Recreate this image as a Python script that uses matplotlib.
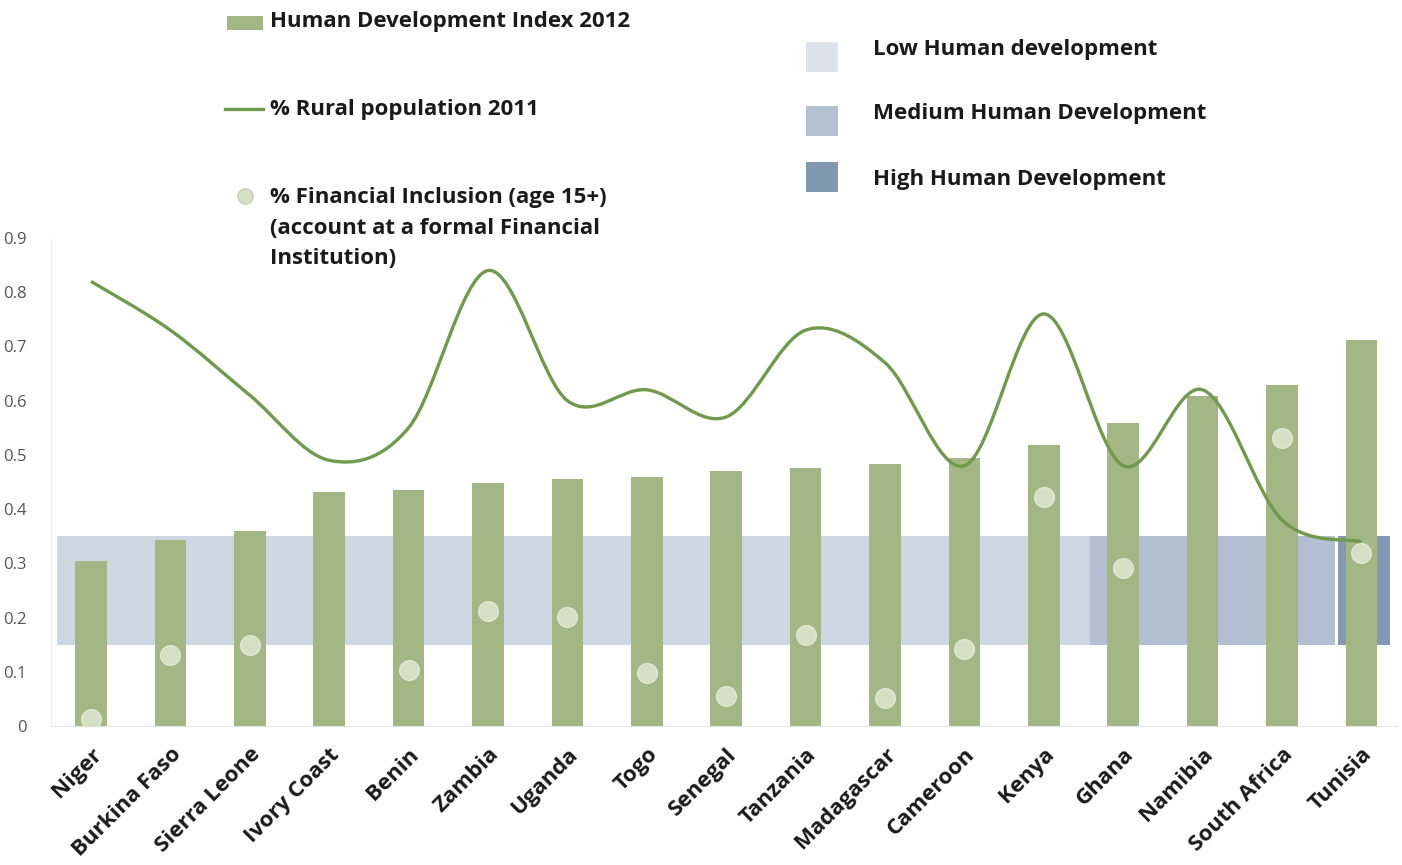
import numpy as np
import matplotlib
matplotlib.use("Agg")
import matplotlib.pyplot as plt
from matplotlib.path import Path
from matplotlib.patches import PathPatch, Rectangle
from matplotlib.lines import Line2D

plt.rcParams['font.family'] = ['Open Sans', 'DejaVu Sans']

countries = ["Niger", "Burkina Faso", "Sierra Leone", "Ivory Coast", "Benin", "Zambia",
             "Uganda", "Togo", "Senegal", "Tanzania", "Madagascar", "Cameroon", "Kenya",
             "Ghana", "Namibia", "South Africa", "Tunisia"]
hdi_2012 = [0.304, 0.343, 0.359, 0.432, 0.436, 0.448, 0.456, 0.459, 0.470, 0.476,
            0.483, 0.495, 0.519, 0.558, 0.608, 0.629, 0.712]
rural_2011 = [0.82, 0.73, 0.61, 0.49, 0.55, 0.84, 0.60, 0.62, 0.57, 0.73,
              0.67, 0.48, 0.76, 0.48, 0.62, 0.38, 0.34]
fin_inclusion = [0.013, 0.131, 0.150, np.nan, 0.103, 0.212, 0.201, 0.098, 0.055, 0.168,
                 0.052, 0.142, 0.423, 0.292, np.nan, 0.531, 0.319]
yticks = [0, 0.1, 0.2, 0.3, 0.4, 0.5, 0.6, 0.7, 0.8, 0.9]
ytick_labels = ["0", "0.1", "0.2", "0.3", "0.4", "0.5", "0.6", "0.7", "0.8", "0.9"]
band_labels = ["Low Human development", "Medium Human Development", "High Human Development"]
band_low, band_high = 0.15, 0.35
band_x = [(-0.43, 12.58), (12.58, 15.67), (15.70, 16.36)]

BAR = "#a3b785"
LINE = "#6f9a4c"
DOT = "#d5dfc3"
BAND_COLORS = ["#cdd7e1", "#b1bfd0", "#8299b1"]
LEG_BAND_COLORS = ["#dde3eb", "#b4c1d0", "#8099b1"]

W, H = 1402, 865
fig = plt.figure(figsize=(W / 100, H / 100), dpi=100)

x0_px, step_px = 91, 79.4
xmin, xmax = -0.5, 16.45
ax_left = x0_px + xmin * step_px
ax_right = x0_px + xmax * step_px
ax_top, ax_bot = 238, 726
ax = fig.add_axes([ax_left / W, 1 - ax_bot / H, (ax_right - ax_left) / W, (ax_bot - ax_top) / H])

x = np.arange(len(countries))

for (a, b), c in zip(band_x, BAND_COLORS):
    ax.add_patch(Rectangle((a, band_low), b - a, band_high - band_low, facecolor=c,
                           edgecolor='none', zorder=1))

ax.bar(x, hdi_2012, width=0.4, color=BAR, zorder=2)

# smoothed line (Catmull-Rom style Bezier, as Excel smooth line)
pts = np.column_stack([x, rural_2011]).astype(float)
verts = [tuple(pts[0])]
codes = [Path.MOVETO]
n = len(pts)
for i in range(n - 1):
    p0 = pts[i - 1] if i > 0 else pts[i]
    p1 = pts[i]
    p2 = pts[i + 1]
    p3 = pts[i + 2] if i + 2 < n else pts[i + 1]
    c1 = p1 + (p2 - p0) / 6.0
    c2 = p2 - (p3 - p1) / 6.0
    verts += [tuple(c1), tuple(c2), tuple(p2)]
    codes += [Path.CURVE4] * 3
ax.add_patch(PathPatch(Path(verts, codes), facecolor='none', edgecolor=LINE, lw=2.4,
                       zorder=3, capstyle='butt'))

ax.scatter(x, fin_inclusion, s=200, color=DOT, edgecolors='#e1e8d5', linewidths=1.0, zorder=4)

ax.set_xlim(xmin, xmax)
ax.set_ylim(0, 0.9)
ax.set_yticks(yticks)
ax.set_yticklabels(ytick_labels)
ax.set_xticks(x)
ax.set_xticklabels(countries, rotation=45, ha='right', rotation_mode='anchor',
                   fontsize=16, fontweight='bold', color='#1a1a1a')
ax.tick_params(axis='y', length=0, pad=18, labelsize=12, labelcolor='#555555')
ax.tick_params(axis='x', length=0, pad=13)
for s in ['top', 'right']:
    ax.spines[s].set_visible(False)
ax.spines['left'].set_color('#eeeeee')
ax.spines['bottom'].set_color('#e4e4e4')
ax.spines['left'].set_linewidth(0.8)
ax.spines['bottom'].set_linewidth(0.8)

# legends drawn in figure pixel positions
def fx(px):
    return px / W

def fy(py):
    return 1 - py / H

TXT = dict(fontsize=16, fontweight='bold', color='#1a1a1a', va='center', ha='left')

fig.patches.append(Rectangle((fx(227), fy(30)), fx(263) - fx(227), fy(16) - fy(30),
                             transform=fig.transFigure, facecolor=BAR, edgecolor='none'))
fig.text(fx(270), fy(22), "Human Development Index 2012", **TXT)
fig.lines.append(Line2D([fx(225), fx(263)], [fy(109), fy(109)], transform=fig.transFigure,
                        color=LINE, lw=2.4))
fig.text(fx(270), fy(109), "% Rural population 2011", **TXT)
fig.lines.append(Line2D([fx(245)], [fy(196)], transform=fig.transFigure, marker='o',
                        markersize=11, color=DOT, markeredgecolor='#c7d4b1', lw=0))
fig.text(fx(270), fy(228), "% Financial Inclusion (age 15+)\n(account at a formal Financial\nInstitution)",
         fontsize=16, fontweight='bold', color='#1a1a1a', va='center', ha='left', linespacing=1.62)

for i, (lab, c) in enumerate(zip(band_labels, LEG_BAND_COLORS)):
    top = [42, 106, 162][i]
    ty = [49, 114, 179][i]
    fig.patches.append(Rectangle((fx(806), fy(top + 30)), fx(838) - fx(806), fy(top) - fy(top + 30),
                                 transform=fig.transFigure, facecolor=c, edgecolor='none'))
    fig.text(fx(873), fy(ty), lab, **TXT)

fig.savefig("out.png", dpi=100, facecolor='white')
